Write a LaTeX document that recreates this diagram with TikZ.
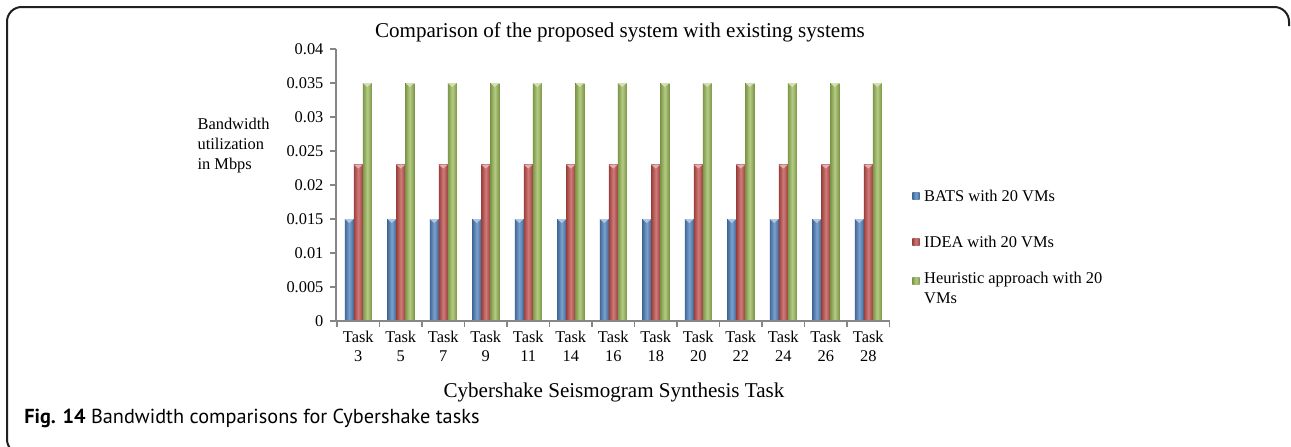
\documentclass[tikz,border=0pt]{standalone}
\usepackage{fontspec}
\setmainfont{Liberation Serif}
\newfontfamily\capfont{PT Sans}
\usetikzlibrary{positioning}
\definecolor{batsblue}{RGB}{79,129,189}
\definecolor{ideared}{RGB}{192,80,77}
\definecolor{heurgreen}{RGB}{155,187,89}
\definecolor{axisgray}{RGB}{134,134,134}
\definecolor{framedark}{RGB}{35,31,32}

\begin{document}
\begin{tikzpicture}[x=0.75pt, y=-0.75pt,
  bar/.style={left color=#1!80!black, right color=#1!80!black, middle color=#1!75!white},
  tip/.style={fill=#1!45!white},
  axisline/.style={draw=axisgray, line width=1.6pt},
  ticklbl/.style={font=\fontsize{12.3}{14.2}\selectfont, inner sep=1pt},
  catlbl/.style={font=\fontsize{12.3}{14.2}\selectfont, align=center, anchor=north, inner sep=0pt},
  keybox/.style={bar=#1, minimum size=5.5pt, inner sep=0pt},
  keylbl/.style={font=\fontsize{12.3}{15}\selectfont, align=left, anchor=west, inner sep=0pt},
  ttl/.style={font=\fontsize{15.8}{18}\selectfont, inner sep=0pt}
]
\useasboundingbox (0,0) rectangle (1291,446);
\fill[white] (0,0) rectangle (1291,446);

\draw[framedark, line width=1.5pt, rounded corners=11pt]
  (1289,26) -- (1289,7) -- (7,7) -- (7,454) -- (40,454);

\node[ttl] (title) at (620,32) {Comparison of the proposed system with existing systems};

\foreach \lab [count=\k from 0] in {0,0.005,0.01,0.015,0.02,0.025,0.03,0.035,0.04} {
  \node[ticklbl, anchor=east] (ytick\k) at (325,321-\k*34) {\lab};
  \draw[axisgray, line width=1.2pt] (330,321-\k*34) -- (336,321-\k*34);
}

\foreach \t [count=\i from 0] in {3,5,7,9,11,14,16,18,20,22,24,26,28} {
  \pgfmathsetmacro\cx{358.25+\i*42.5}
  \fill[bar=batsblue] (\cx-13.5,321) rectangle (\cx-4.5,219);
  \fill[tip=batsblue] (\cx-13.5,219) -- (\cx-4.5,219) -- (\cx-9,223) -- cycle;
  \fill[bar=ideared] (\cx-4.5,321) rectangle (\cx+4.5,164.6);
  \fill[tip=ideared] (\cx-4.5,164.6) -- (\cx+4.5,164.6) -- (\cx,168.6) -- cycle;
  \fill[bar=heurgreen] (\cx+4.5,321) rectangle (\cx+13.5,83);
  \fill[tip=heurgreen] (\cx+4.5,83) -- (\cx+13.5,83) -- (\cx+9,87) -- cycle;
  \node[catlbl] (task\t) at (\cx,331) {Task\\\t};
}

\foreach \i in {0,...,13}
  \draw[axisgray, line width=1.2pt] (337+\i*42.5,321) -- (337+\i*42.5,327);
\draw[axisline] (336,49) -- (336,321) -- (890,321);

\node[ticklbl, align=left, anchor=north west, font=\fontsize{12.3}{15}\selectfont] (ylabel) at (196,117)
  {Bandwidth\\utilization\\in Mbps};

\node[ttl] (xlabel) at (614,392) {Cybershake Seismogram Synthesis Task};

\node[keybox=batsblue] (key1) at (916,196) {};
\node[keylbl, right=3pt of key1] (bats) {BATS with 20 VMs};
\node[keybox=ideared] (key2) at (916,242) {};
\node[keylbl, right=3pt of key2] (idea) {IDEA with 20 VMs};
\node[keybox=heurgreen] (key3) at (916,281) {};
\node[keylbl, anchor=north west] (heur) at ([xshift=3pt, yshift=7pt]key3.east) {Heuristic approach with 20\\VMs};

\node[anchor=west, inner sep=0pt, font=\capfont\fontsize{15.2}{17}\selectfont] (caption) at (24,418)
  {\textbf{Fig. 14} Bandwidth comparisons for Cybershake tasks};
\end{tikzpicture}
\end{document}
